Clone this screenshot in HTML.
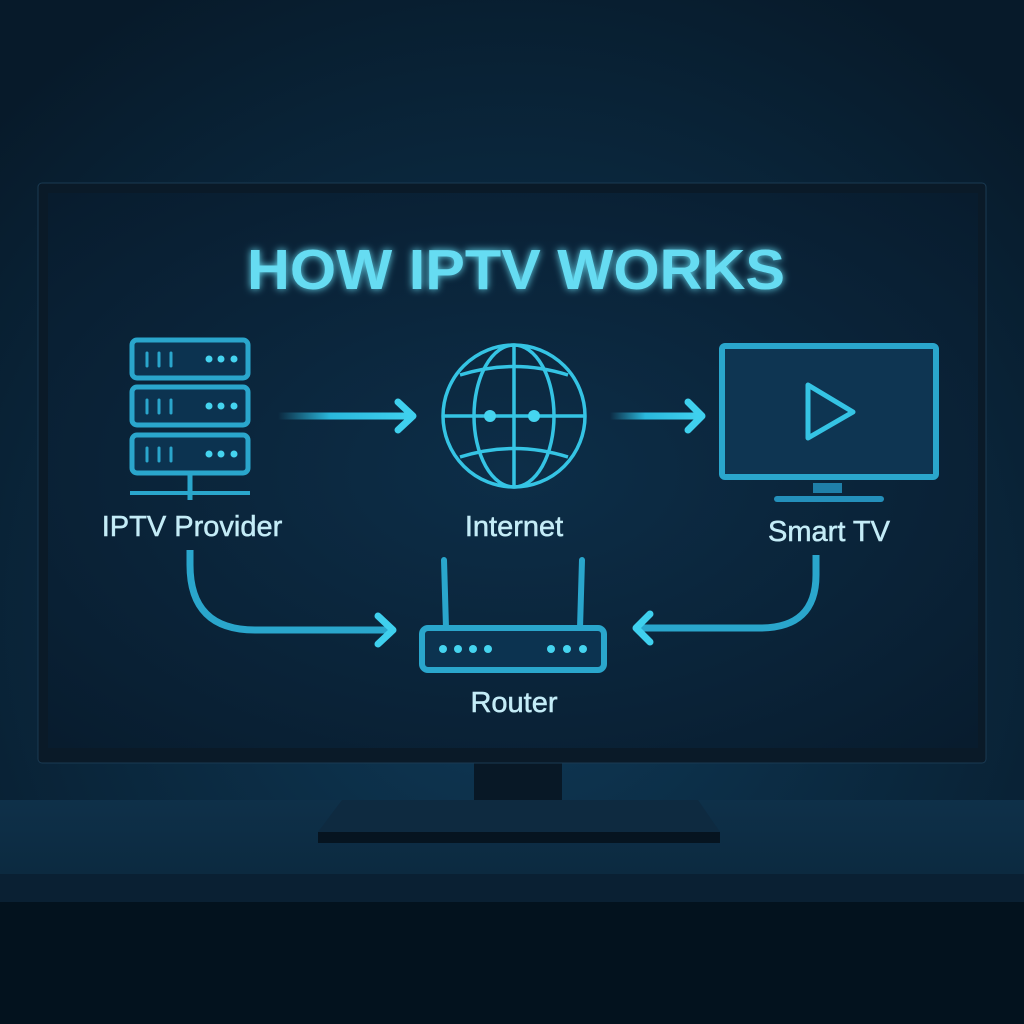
<!DOCTYPE html>
<html><head><meta charset="utf-8"><style>
html,body{margin:0;padding:0;background:#04121e}
svg{display:block}
text{font-family:"Liberation Sans",sans-serif}
</style></head><body>
<svg width="1024" height="1024" viewBox="0 0 1024 1024" xmlns="http://www.w3.org/2000/svg">
<defs>
<radialGradient id="bg" cx="0.5" cy="0.6" r="0.7">
<stop offset="0" stop-color="#0f3a58"/><stop offset="1" stop-color="#071a2a"/>
</radialGradient>
<radialGradient id="scr" cx="0.5" cy="0.5" r="0.7">
<stop offset="0" stop-color="#0d2e48"/><stop offset="1" stop-color="#081c2e"/>
</radialGradient>
<linearGradient id="shelf" x1="0" y1="0" x2="0" y2="1">
<stop offset="0" stop-color="#0e3049"/><stop offset="1" stop-color="#0c2a40"/>
</linearGradient>
<linearGradient id="a1" gradientUnits="userSpaceOnUse" x1="278" y1="0" x2="410" y2="0">
<stop offset="0" stop-color="#2ab8dc" stop-opacity="0"/><stop offset="0.4" stop-color="#2ab8dc"/><stop offset="1" stop-color="#3fd0ee"/>
</linearGradient>
<linearGradient id="a2" gradientUnits="userSpaceOnUse" x1="610" y1="0" x2="698" y2="0">
<stop offset="0" stop-color="#2ab8dc" stop-opacity="0"/><stop offset="0.4" stop-color="#2ab8dc"/><stop offset="1" stop-color="#3fd0ee"/>
</linearGradient>
<filter id="glow" x="-20%" y="-50%" width="140%" height="200%"><feGaussianBlur stdDeviation="4" result="b"/><feMerge><feMergeNode in="b"/><feMergeNode in="SourceGraphic"/></feMerge></filter>
</defs>
<rect width="1024" height="1024" fill="url(#bg)"/>
<rect y="800" width="1024" height="75" fill="url(#shelf)"/>
<rect y="874" width="1024" height="28" fill="#0a2033"/>
<rect y="902" width="1024" height="122" fill="#03121e"/>
<rect x="474" y="760" width="88" height="55" fill="#081826"/>
<polygon points="342,800 698,800 720,832 318,832" fill="#0e2a40"/>
<rect x="318" y="832" width="402" height="11" fill="#061420"/>
<rect x="38" y="183" width="948" height="580" rx="4" fill="#0a1a28" stroke="#1a3a52" stroke-width="1"/>
<rect x="48" y="193" width="930" height="555" fill="url(#scr)"/>
<text x="516" y="289" text-anchor="middle" font-size="57" font-weight="bold" fill="#66dcf2" filter="url(#glow)" textLength="538" lengthAdjust="spacingAndGlyphs">HOW IPTV WORKS</text>
<g fill="none" stroke="#2aa6cc" stroke-width="5">
<rect x="132" y="340" width="116" height="38" rx="5" fill="#0c3350"/>
<rect x="132" y="387" width="116" height="38" rx="5" fill="#0c3350"/>
<rect x="132" y="435" width="116" height="38" rx="5" fill="#0c3350"/>
<line x1="190" y1="475" x2="190" y2="500"/>
<line x1="130" y1="493" x2="250" y2="493" stroke-width="4"/>
</g>
<g stroke="#2aa6cc" stroke-width="3" stroke-linecap="round">
<line x1="147" y1="353" x2="147" y2="366"/><line x1="159" y1="353" x2="159" y2="366"/><line x1="171" y1="353" x2="171" y2="366"/>
<line x1="147" y1="400" x2="147" y2="413"/><line x1="159" y1="400" x2="159" y2="413"/><line x1="171" y1="400" x2="171" y2="413"/>
<line x1="147" y1="448" x2="147" y2="461"/><line x1="159" y1="448" x2="159" y2="461"/><line x1="171" y1="448" x2="171" y2="461"/>
</g>
<g fill="#45d4ef">
<circle cx="209" cy="359" r="3.5"/><circle cx="221" cy="359" r="3.5"/><circle cx="234" cy="359" r="3.5"/>
<circle cx="209" cy="406" r="3.5"/><circle cx="221" cy="406" r="3.5"/><circle cx="234" cy="406" r="3.5"/>
<circle cx="209" cy="454" r="3.5"/><circle cx="221" cy="454" r="3.5"/><circle cx="234" cy="454" r="3.5"/>
</g>
<rect x="278" y="412.5" width="132" height="7" fill="url(#a1)"/>
<polyline points="398,402 413,416 398,430" fill="none" stroke="#3fd0ee" stroke-width="7" stroke-linecap="round" stroke-linejoin="round"/>
<rect x="610" y="412.5" width="88" height="7" fill="url(#a2)"/>
<polyline points="688,402 702,416 688,430" fill="none" stroke="#3fd0ee" stroke-width="7" stroke-linecap="round" stroke-linejoin="round"/>
<g fill="none" stroke="#35c4e4" stroke-width="3.5">
<circle cx="514" cy="416" r="71"/>
<ellipse cx="514" cy="416" rx="40" ry="71"/>
<line x1="514" y1="345" x2="514" y2="487"/>
<line x1="443" y1="416" x2="585" y2="416"/>
<path d="M460 375 Q514 358 568 375"/>
<path d="M460 457 Q514 440 568 457"/>
</g>
<circle cx="490" cy="416" r="6" fill="#45d4ef"/><circle cx="534" cy="416" r="6" fill="#45d4ef"/>
<rect x="722" y="346" width="214" height="131" rx="3" fill="#0e3552" stroke="#2aa6cc" stroke-width="6"/>
<polygon points="808,385 853,412 808,438" fill="none" stroke="#35c4e4" stroke-width="5" stroke-linejoin="round"/>
<rect x="813" y="483" width="29" height="10" fill="#1f7fa8"/>
<rect x="774" y="496" width="110" height="6" rx="3" fill="#2490bb"/>
<g fill="#c4ecf7" font-size="29" text-anchor="middle" stroke="#c4ecf7" stroke-width="0.5">
<text x="192" y="536">IPTV Provider</text>
<text x="514" y="536">Internet</text>
<text x="829" y="541">Smart TV</text>
<text x="514" y="712">Router</text>
</g>
<path d="M190 550 L190 565 Q190 630 255 630 L388 630" fill="none" stroke="#2aa6cc" stroke-width="7"/>
<polyline points="378,616 393,630 378,644" fill="none" stroke="#3fd0ee" stroke-width="7" stroke-linecap="round" stroke-linejoin="round"/>
<path d="M816 555 L816 575 Q816 628 760 628 L640 628" fill="none" stroke="#2aa6cc" stroke-width="7"/>
<polyline points="650,614 636,628 650,642" fill="none" stroke="#3fd0ee" stroke-width="7" stroke-linecap="round" stroke-linejoin="round"/>
<line x1="444" y1="560" x2="446" y2="628" stroke="#2aa6cc" stroke-width="6" stroke-linecap="round"/>
<line x1="582" y1="560" x2="580" y2="628" stroke="#2aa6cc" stroke-width="6" stroke-linecap="round"/>
<rect x="422" y="628" width="182" height="42" rx="6" fill="#0c3350" stroke="#2aa6cc" stroke-width="6"/>
<g fill="#45d4ef">
<circle cx="443" cy="649" r="4"/><circle cx="458" cy="649" r="4"/><circle cx="473" cy="649" r="4"/><circle cx="488" cy="649" r="4"/>
<circle cx="551" cy="649" r="4"/><circle cx="567" cy="649" r="4"/><circle cx="583" cy="649" r="4"/>
</g>
</svg>
</body></html>
